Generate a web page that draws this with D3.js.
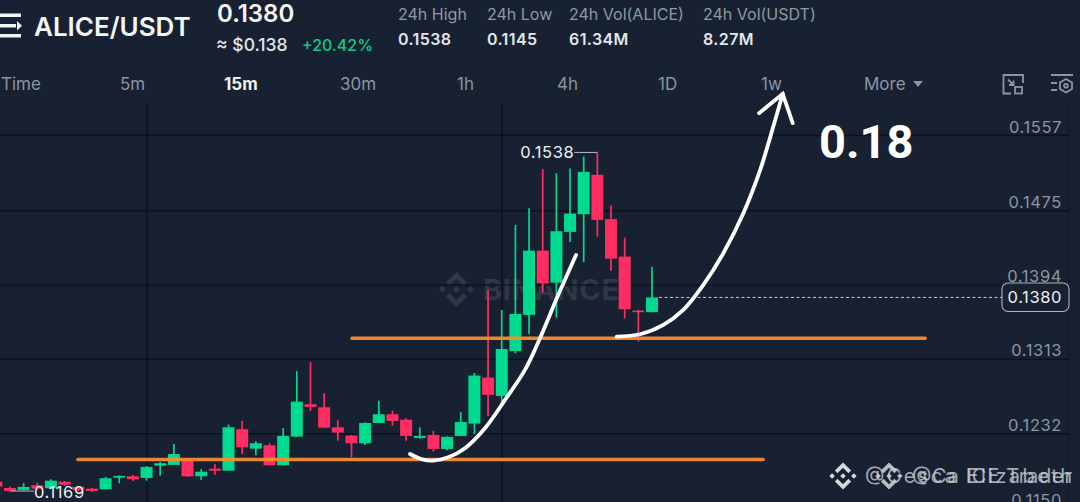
<!DOCTYPE html>
<html>
<head>
<meta charset="utf-8">
<script src="https://cdn.jsdelivr.net/npm/d3@7"></script>
<style>
  html, body { margin: 0; padding: 0; background: #172131; overflow: hidden; }
  text { font-family: Inter, "Noto Sans", sans-serif; }
</style>
</head>
<body>
<div id="chart"></div>
<script>
// 15m candles, left to right
const opens = [0.11792,0.11724,0.11702,0.11753,0.11721,0.11792,0.11735,0.11716,0.1171,0.11836,0.11851,0.11833,0.11967,0.11975,0.12018,0.11851,0.11934,0.11912,0.12364,0.12152,0.12189,0.11971,0.12283,0.12636,0.12603,0.12385,0.12294,0.12211,0.12432,0.12527,0.12468,0.12269,0.12302,0.12149,0.12291,0.12425,0.12926,0.12727,0.13217,0.1361,0.1431,0.13962,0.14514,0.14707,0.15136,0.14653,0.14245,0.13656,0.13639];
const closes = [0.11738,0.11691,0.11735,0.11716,0.11803,0.1176,0.11702,0.11691,0.1183,0.11855,0.11819,0.11953,0.11993,0.12094,0.11851,0.11901,0.11912,0.12385,0.12167,0.12211,0.11971,0.12291,0.12664,0.12607,0.12381,0.12327,0.12211,0.12432,0.12527,0.12454,0.12291,0.12291,0.12149,0.1228,0.12443,0.12948,0.12738,0.13239,0.1362,0.1431,0.13955,0.14522,0.14714,0.15168,0.14645,0.14223,0.13672,0.13642,0.138];
const highs = [0.118,0.11738,0.11775,0.11782,0.11819,0.118,0.11746,0.11727,0.11844,0.1186,0.11866,0.11964,0.12007,0.12203,0.12043,0.11928,0.11982,0.12414,0.12454,0.12233,0.12211,0.12375,0.12996,0.13094,0.12756,0.12465,0.12302,0.1244,0.12675,0.12566,0.12484,0.12385,0.12345,0.12287,0.12549,0.12977,0.13882,0.13664,0.14591,0.14773,0.15198,0.15154,0.15204,0.15335,0.1538,0.14801,0.14452,0.13664,0.14133];
const lows = [0.11729,0.1168,0.11697,0.11702,0.11713,0.11746,0.11691,0.1168,0.1171,0.11775,0.118,0.11803,0.11858,0.11975,0.11844,0.11811,0.11869,0.11912,0.12094,0.1208,0.11971,0.11971,0.12283,0.12563,0.12381,0.12239,0.12058,0.12193,0.12432,0.12403,0.12239,0.12261,0.12119,0.12135,0.12291,0.12312,0.12509,0.1265,0.13192,0.13399,0.13853,0.1358,0.14405,0.14184,0.14463,0.14092,0.13569,0.13318,0.13639];

const priceTicks = [0.1557,0.1475,0.1394,0.1313,0.1232,0.1150];
const timeGrid = [11,37];
const lastPrice = 0.1380;
const highMark = [44,0.1538,"0.1538"];
const lowMark = [7,0.1169,"0.1169"];

// hand drawn notes on top of the chart: [candle index, price]
const supportFrom = [26.04,5.98];
const supportTo = [67.99,56.13];
const supportPrice = [0.13356,0.12034];
const curveOne = [[30.29,0.12094],[31.14,0.12037],[31.99,0.12021],[33.09,0.12058],[34.31,0.12157],[35.77,0.12375],[37.24,0.12683],[38.7,0.1301],[39.8,0.13356],[41.14,0.13828],[42.44,0.14263]];
const curveTwo = [[45.42,0.13373],[47.12,0.13399],[48.83,0.13501],[50.29,0.13664],[51.76,0.13937],[53.22,0.14282],[54.69,0.14718],[55.92,0.1519],[56.88,0.15662],[57.57,0.16018]];
const arrowHead = [[55.83,0.15808],[57.57,0.16018],[58.3,0.15699]];

const tabNames = ["Time","5m","15m","30m","1h","4h","1D","1w","More"];
const tabLefts = [1,120,224,340,457,557,658,761,864];
const statNames = ["24h High","24h Low","24h Vol(ALICE)","24h Vol(USDT)"];
const statValues = ["0.1538","0.1145","61.34M","8.27M"];
const statLefts = [398,487,569,703];

const width = 1080, height = 502;
const bg = "#172131", green = "#00DA8E", red = "#FF2D62", grey = "#8C95A1", soft = "#EEF0F2";

const svg = d3.select("#chart").append("svg")
  .attr("width", width)
  .attr("height", height)
  .style("display", "block");

svg.append("rect").attr("width", width).attr("height", height).attr("fill", bg);

const x = d3.scaleLinear().domain([0, 48]).range([-3.7, 652]);
const y = d3.scaleLinear().domain([0.1557, 0.1150]).range([135, 508.5]);

function binanceLogo(g, cx, cy, s, color) {
  const logo = g.append("g")
    .attr("transform", "translate(" + cx + "," + cy + ") scale(" + s + ")")
    .attr("fill", color);
  logo.append("path").attr("d", "M0,-16L9.6,-6.4L6.4,-3.2L0,-9.6L-6.4,-3.2L-9.6,-6.4Z");
  logo.append("path").attr("d", "M0,16L9.6,6.4L6.4,3.2L0,9.6L-6.4,3.2L-9.6,6.4Z");
  logo.append("path").attr("d", "M0,-3.2L3.2,0L0,3.2L-3.2,0Z");
  logo.append("path").attr("d", "M12.8,-3.2L16,0L12.8,3.2L9.6,0Z");
  logo.append("path").attr("d", "M-12.8,-3.2L-9.6,0L-12.8,3.2L-16,0Z");
}

// ----- watermark -----
binanceLogo(svg, 456.5, 289.5, 1.1, "#2E3745");
svg.append("text").attr("x", 483).attr("y", 300)
  .attr("font-size", 29).attr("font-weight", 700).attr("fill", "#2E3745")
  .attr("textLength", 136).text("BINANCE");

// ----- grid -----
const gridAxis = d3.axisLeft(y).tickValues(priceTicks).tickSize(1069).tickFormat("");
svg.append("g").attr("class", "grid").attr("transform", "translate(1069,0)").call(gridAxis)
  .call(g => g.select(".domain").remove())
  .call(g => g.selectAll("line").attr("stroke", "#0C121D").attr("stroke-width", 1.3));

svg.append("g").selectAll("line").data(timeGrid).join("line")
  .attr("x1", d => x(d) + 0.6).attr("x2", d => x(d) + 0.6)
  .attr("y1", 104).attr("y2", height)
  .attr("stroke", "#0C121D").attr("stroke-width", 1.3);

svg.append("line").attr("x1", 1069).attr("x2", 1069).attr("y1", 104).attr("y2", height)
  .attr("stroke", "#111A28").attr("stroke-width", 1);

const priceAxis = d3.axisLeft(y).tickValues(priceTicks).tickSize(0).tickPadding(0).tickFormat(d3.format(".4f"));
svg.append("g").attr("class", "prices").attr("transform", "translate(1062,0)").call(priceAxis)
  .call(g => g.select(".domain").remove())
  .call(g => g.selectAll("text")
    .attr("dy", -3).attr("font-size", 16.5).attr("letter-spacing", 0.6).attr("fill", grey)
    .style("font-family", "Inter, sans-serif"));

// ----- candles -----
const candles = d3.range(opens.length).map(i => ({
  i: i, open: opens[i], close: closes[i], high: highs[i], low: lows[i]
}));
const color = d => d.close >= d.open ? green : red;

const candle = svg.append("g").selectAll("g").data(candles).join("g");
candle.append("line")
  .attr("x1", d => x(d.i)).attr("x2", d => x(d.i))
  .attr("y1", d => y(d.high)).attr("y2", d => y(d.low))
  .attr("stroke", color).attr("stroke-width", 1.7);
candle.append("rect")
  .attr("x", d => x(d.i) - 6)
  .attr("width", 12)
  .attr("y", d => y(Math.max(d.open, d.close)))
  .attr("height", d => Math.max(1.5, Math.abs(y(d.open) - y(d.close))))
  .attr("fill", color);

// ----- high / low markers -----
svg.append("line")
  .attr("x1", x(highMark[0]) - 23).attr("x2", x(highMark[0]))
  .attr("y1", y(highMark[1])).attr("y2", y(highMark[1]))
  .attr("stroke", "#B9BEC6").attr("stroke-width", 1);
svg.append("text").attr("x", x(highMark[0]) - 23).attr("y", y(highMark[1]) + 6)
  .attr("text-anchor", "end").attr("font-size", 16.5).attr("letter-spacing", 0.6).attr("fill", soft).text(highMark[2]);
svg.append("line")
  .attr("x1", x(lowMark[0]) - 81).attr("x2", x(lowMark[0]) - 58)
  .attr("y1", y(lowMark[1])).attr("y2", y(lowMark[1]))
  .attr("stroke", "#B9BEC6").attr("stroke-width", 1);
svg.append("text").attr("x", x(lowMark[0]) - 58).attr("y", y(lowMark[1]) + 7)
  .attr("font-size", 16.5).attr("letter-spacing", 0.6).attr("fill", soft).text(lowMark[2]);

// ----- last price -----
svg.append("line")
  .attr("x1", x(48) + 7).attr("x2", 1002)
  .attr("y1", y(lastPrice)).attr("y2", y(lastPrice))
  .attr("stroke", "#C5CAD1").attr("stroke-width", 1).attr("stroke-dasharray", "3 2.5");
svg.append("rect")
  .attr("x", 1002).attr("y", y(lastPrice) - 14.5).attr("width", 67).attr("height", 28.5).attr("rx", 6)
  .attr("fill", bg).attr("stroke", "#AEB4BC").attr("stroke-width", 1.1);
svg.append("text").attr("x", 1062).attr("y", y(lastPrice) + 6)
  .attr("text-anchor", "end").attr("font-size", 16.5).attr("letter-spacing", 0.6).attr("fill", soft).text(d3.format(".4f")(lastPrice));

// ----- drawn notes -----
svg.append("g").selectAll("line").data(supportPrice).join("line")
  .attr("x1", (d, i) => x(supportFrom[i])).attr("x2", (d, i) => x(supportTo[i]))
  .attr("y1", d => y(d)).attr("y2", d => y(d))
  .attr("stroke", "#F98D2D").attr("stroke-width", 3.6).attr("stroke-linecap", "round").attr("opacity", 0.95);

const smooth = d3.line().x(d => x(d[0])).y(d => y(d[1])).curve(d3.curveCatmullRom);
const straight = d3.line().x(d => x(d[0])).y(d => y(d[1]));
[curveOne, curveTwo].forEach(c => {
  svg.append("path").attr("d", smooth(c))
    .attr("fill", "none").attr("stroke", "#fff").attr("stroke-width", 3.8).attr("stroke-linecap", "round");
});
svg.append("path").attr("d", straight(arrowHead))
  .attr("fill", "none").attr("stroke", "#fff").attr("stroke-width", 3.8)
  .attr("stroke-linecap", "round").attr("stroke-linejoin", "miter");
svg.append("text").attr("x", 819).attr("y", 158)
  .attr("font-size", 47).attr("font-weight", 700).attr("fill", "#fff")
  .style("font-family", "Roboto, sans-serif").text("0.18");

// ----- header -----
const menu = svg.append("g").attr("fill", "#F2F3F5");
menu.append("rect").attr("x", -2).attr("y", 13.5).attr("width", 23).attr("height", 3.5);
menu.append("rect").attr("x", -2).attr("y", 24).attr("width", 18).attr("height", 3.5);
menu.append("path").attr("d", "M17,21L22,25.7L17,30.5Z");
menu.append("rect").attr("x", -2).attr("y", 34).attr("width", 23).attr("height", 3.5);

svg.append("text").attr("x", 34).attr("y", 36)
  .attr("font-size", 26).attr("font-weight", 600).attr("fill", "#F5F6F7").text("ALICE/USDT");
svg.append("text").attr("x", 217).attr("y", 22)
  .attr("font-size", 24).attr("font-weight", 600).attr("fill", "#F5F6F7").text("0.1380");
svg.append("text").attr("x", 216).attr("y", 51)
  .attr("font-size", 17.5).attr("font-weight", 500).attr("fill", "#E4E6E9").text("≈ $0.138");
svg.append("text").attr("x", 302).attr("y", 51)
  .attr("font-size", 16).attr("font-weight", 500).attr("fill", "#10C98A").text("+20.42%");

svg.append("g").selectAll("text").data(statNames).join("text")
  .attr("x", (d, i) => statLefts[i]).attr("y", 19.5)
  .attr("font-size", 16).attr("fill", "#8F98A3").text(d => d);
svg.append("g").selectAll("text").data(statValues).join("text")
  .attr("x", (d, i) => statLefts[i]).attr("y", 44.5)
  .attr("font-size", 16).attr("font-weight", 600).attr("letter-spacing", 0.4).attr("fill", "#E4E6E9").text(d => d);

// ----- interval tabs -----
svg.append("g").selectAll("text").data(tabNames).join("text")
  .attr("x", (d, i) => tabLefts[i]).attr("y", 90)
  .attr("font-size", 17)
  .attr("font-weight", d => d === "15m" ? 700 : 400)
  .attr("fill", d => d === "15m" ? "#F0F1F3" : "#8C95A1")
  .text(d => d);
svg.append("path").attr("d", "M913,81L923,81L918,87Z").attr("fill", "#8C95A1");

const tools = svg.append("g").attr("fill", "none").attr("stroke", "#8C95A1").attr("stroke-width", 1.8);
tools.append("path").attr("d", "M1011,93.5L1003.5,93.5L1003.5,75L1023,75L1023,83");
tools.append("rect").attr("x", 1015).attr("y", 87).attr("width", 7).attr("height", 6.5);
tools.append("path").attr("d", "M1008,79.5L1013.5,85M1013.5,80.5L1013.5,85L1009,85");
tools.append("path").attr("d", "M1051,75H1073M1051,83H1057M1051,90H1057");
tools.append("path").attr("d", "M1066,79L1072,82.5L1072,89L1066,92.5L1060,89L1060,82.5Z");
tools.append("circle").attr("cx", 1066).attr("cy", 85.7).attr("r", 1.9);

// ----- corner watermark, two frames blended -----
binanceLogo(svg, 843, 476, 0.85, "#D5D8DC");
binanceLogo(svg, 889, 476, 0.85, "#B9BDC4");
svg.append("text").attr("x", 865).attr("y", 483)
  .attr("font-size", 20).attr("fill", "#C9CCD1").attr("opacity", 0.8)
  .attr("textLength", 207).text("@Cesca Elizabeth");
svg.append("text").attr("x", 912).attr("y", 483)
  .attr("font-size", 20).attr("fill", "#C9CCD1").attr("opacity", 0.8)
  .attr("textLength", 160).text("@Ca ICE Trader");
</script>
</body>
</html>
